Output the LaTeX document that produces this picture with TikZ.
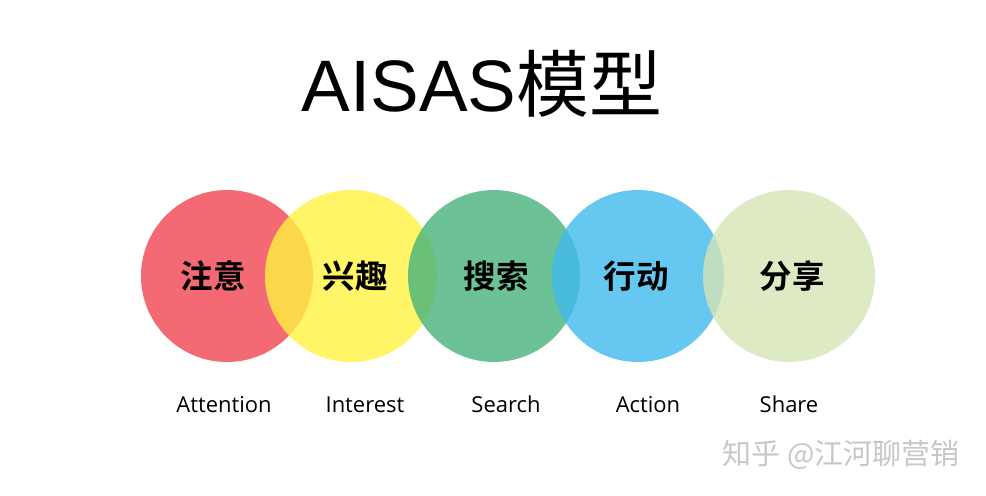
\documentclass[tikz,border=0pt]{standalone}
\usepackage{fontspec}
\setmainfont{Liberation Sans}
\newfontfamily\cjk{Noto Sans CJK SC}
\newfontfamily\cjkbold{Noto Sans CJK SC Bold}
\newfontfamily\labfont{Open Sans}
\definecolor{attred}{RGB}{240,69,81}
\definecolor{intyellow}{RGB}{255,242,64}
\definecolor{seagreen}{RGB}{71,179,124}
\definecolor{actblue}{RGB}{64,185,236}
\definecolor{sharegreen}{RGB}{214,229,181}
\usetikzlibrary{calc}

\begin{document}
\begin{tikzpicture}[x=0.02cm,y=-0.02cm,
    ring/.style={fill opacity=0.8},
    cn/.style={font=\cjkbold\fontsize{18.5}{20}\selectfont},
    en/.style={anchor=base,font=\labfont\fontsize{12.5}{14}\selectfont}]
        \useasboundingbox (0,0) rectangle (986,496);
        \coordinate (a) at (227,276);
        \coordinate (i) at (351,276);
        \coordinate (s) at (494,276);
        \coordinate (ac) at (638,276);
        \coordinate (sh) at (789,276);
        % title
        \node[anchor=base] (title) at (482,112) {\fontsize{41.5}{50}\selectfont AISAS{\cjk 模型}};
        \fill[attred,ring] (a) circle (86);
        \fill[intyellow,ring] (i) circle (86);
        \fill[seagreen,ring] (s) circle (86);
        \fill[actblue,ring] (ac) circle (86);
        \fill[sharegreen,ring] (sh) circle (86);
        \node[cn] (ca) at(213,276) {注意};
        \node[cn] (ci) at(355,276) {兴趣};
        \node[cn] (cs) at(496,276) {搜索};
        \node[cn] (cac) at(636,276) {行动};
        \node[cn] (csh) at(792,276) {分享};
        \node[en] (ea) at(224,412) {Attention};
        \node[en] (ei) at(365,412) {Interest};
        \node[en] (es) at(506,412) {Search};
        \node[en] (eac) at(648,412) {Action};
        \node[en] (esh) at(789,412) {Share};
        % watermark
        \node[text=black!22,font=\cjk\fontsize{16.5}{18}\selectfont] (mark) at(841,455) {知乎 @江河聊营销};
    \end{tikzpicture}
\end{document}
